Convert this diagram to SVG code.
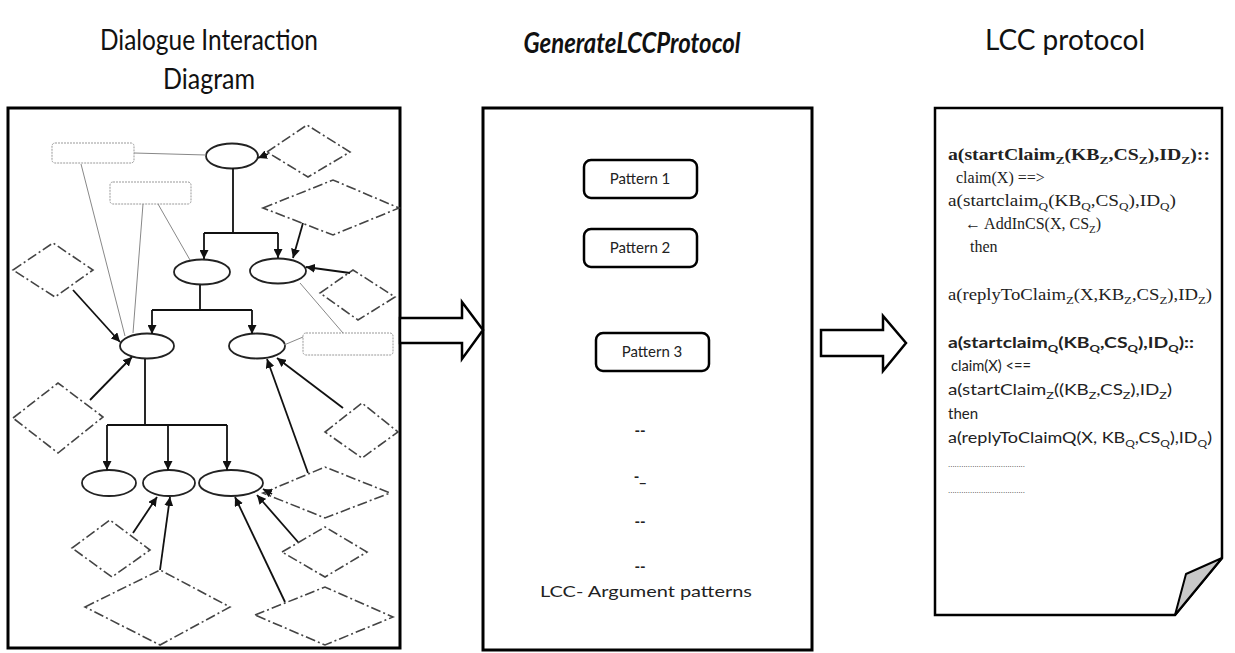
<svg xmlns="http://www.w3.org/2000/svg" width="1235" height="653" viewBox="0 0 1235 653">
  <style>
    .title { font-family: Lato, "Open Sans", "Liberation Sans", sans-serif; font-size: 28px; fill: #111; }
    .frame { fill: #fff; stroke: #000; stroke-width: 3; }
    .ell { fill: #fff; stroke: #222; stroke-width: 1.8; }
    .lbl { fill: #fff; stroke: #999; stroke-width: 1; stroke-dasharray: 2 1; }
    .dia { fill: #fff; stroke: #444; stroke-width: 1.6; stroke-dasharray: 10 3 2 3; }
    .tree { fill: none; stroke: #111; stroke-width: 1.8; }
    .edge { fill: none; stroke: #111; stroke-width: 1.8; marker-end: url(#ah); }
    .link { fill: none; stroke: #888; stroke-width: 1; }
    .block { fill: #fff; stroke: #000; stroke-width: 2.5; stroke-linejoin: miter; }
    .pat { fill: #fff; stroke: #000; stroke-width: 2.5; }
    .pt { font-family: Lato, "Open Sans", "Liberation Sans", sans-serif; font-size: 15px; fill: #222; text-anchor: middle; }
    .ser { font-family: "Liberation Serif", "Times New Roman", serif; font-size: 16px; fill: #222; }
    .san { font-family: Lato, "Liberation Sans", sans-serif; font-size: 15px; fill: #222; }
    .b { font-weight: bold; }
    .dots { font-family: "Liberation Sans", sans-serif; font-size: 9px; fill: #555; }
  </style>
  <defs>
    <marker id="ah" markerWidth="9" markerHeight="9" refX="9" refY="4.5" orient="auto" markerUnits="userSpaceOnUse">
      <path d="M0,0 L9,4.5 L0,9 z" fill="#111"/>
    </marker>
  </defs>

  <rect width="1235" height="653" fill="#fff"/>

  <!-- headings -->
  <g id="headings">
    <text class="title" x="209" y="50" text-anchor="middle" textLength="218" lengthAdjust="spacingAndGlyphs">Dialogue Interaction</text>
    <text class="title" x="209" y="89" text-anchor="middle" textLength="92" lengthAdjust="spacingAndGlyphs">Diagram</text>
    <text class="title" x="632" y="53" text-anchor="middle" font-size="24" font-weight="bold" font-style="italic" textLength="217" lengthAdjust="spacingAndGlyphs">GenerateLCCProtocol</text>
    <text class="title" x="1065" y="50" text-anchor="middle" textLength="160" lengthAdjust="spacingAndGlyphs">LCC protocol</text>
  </g>

  <!-- panel 1: dialogue interaction diagram -->
  <g id="dialogue-panel">
    <rect class="frame" x="8" y="108" width="392" height="540"/>
  </g>

  <!-- graph nodes inside the dialogue panel -->
  <g id="dlg-nodes">
    <rect id="lbl-a" class="lbl" x="52" y="143" width="82" height="20" rx="3"/>
    <rect id="lbl-b" class="lbl" x="110" y="182" width="81" height="22" rx="3"/>
    <rect id="lbl-c" class="lbl" x="303" y="333" width="90" height="22" rx="3"/>

    <ellipse id="e1" class="ell" cx="232" cy="156" rx="26" ry="12.5"/>
    <ellipse id="e2" class="ell" cx="202" cy="272" rx="28" ry="12.5"/>
    <ellipse id="e3" class="ell" cx="278" cy="271" rx="28" ry="12.5"/>
    <ellipse id="e4" class="ell" cx="147" cy="346" rx="27" ry="12.5"/>
    <ellipse id="e5" class="ell" cx="257" cy="346" rx="28" ry="12.5"/>
    <ellipse id="e6" class="ell" cx="109" cy="483" rx="27" ry="13"/>
    <ellipse id="e7" class="ell" cx="169" cy="483" rx="26" ry="13"/>
    <ellipse id="e8" class="ell" cx="231" cy="483" rx="32" ry="13"/>

    <polygon id="d1" class="dia" points="267,152 307,125 350,152 308,177"/>
    <polygon id="d2" class="dia" points="263,208 333,180 399,208 333,235"/>
    <polygon id="d3" class="dia" points="320,293 353,270 395,297 358,320"/>
    <polygon id="d4" class="dia" points="13,270 53,243 93,270 55,297"/>
    <polygon id="d5" class="dia" points="13,418 58,383 103,417 58,453"/>
    <polygon id="d6" class="dia" points="325,432 362,403 398,432 362,458"/>
    <polygon id="d7" class="dia" points="263,493 325,467 390,493 325,518"/>
    <polygon id="d8" class="dia" points="282,552 325,527 367,552 325,577"/>
    <polygon id="d9" class="dia" points="255,615 325,587 393,617 325,645"/>
    <polygon id="d10" class="dia" points="72,548 110,520 150,550 112,577"/>
    <polygon id="d11" class="dia" points="85,607 160,570 230,607 160,645"/>
  </g>

  <!-- panel 2: argument patterns -->
  <g id="patterns-panel">
    <rect class="frame" x="483" y="108" width="329" height="542" stroke-width="2.5"/>
  </g>
  <g id="pattern-1">
    <rect class="pat" x="584" y="160" width="113" height="38" rx="7"/>
    <text class="pt" x="640" y="184">Pattern 1</text>
  </g>
  <g id="pattern-2">
    <rect class="pat" x="584" y="229" width="113" height="38" rx="7"/>
    <text class="pt" x="640" y="253">Pattern 2</text>
  </g>
  <g id="pattern-3">
    <rect class="pat" x="596" y="333" width="113" height="38" rx="7"/>
    <text class="pt" x="652" y="357">Pattern 3</text>
  </g>
  <g id="pattern-more">
    <text class="pt" x="640" y="436" font-weight="bold">--</text>
    <text class="pt" x="640" y="482" font-weight="bold">-_</text>
    <text class="pt" x="640" y="527" font-weight="bold">--</text>
    <text class="pt" x="640" y="572" font-weight="bold">--</text>
    <text class="pt" x="646" y="597" font-size="19" textLength="212" lengthAdjust="spacingAndGlyphs">LCC- Argument patterns</text>
  </g>

  <!-- panel 3: generated LCC protocol document -->
  <g id="protocol-doc">
    <path d="M935,108 H1222 V558 L1175,615 H935 Z" fill="#fff" stroke="#000" stroke-width="2.5" stroke-linejoin="miter"/>
    <path d="M1222,558 L1186,574 L1175,615 Z" fill="#c8c8c8" stroke="#000" stroke-width="2" stroke-linejoin="round"/>

    <text class="ser b" x="948" y="160" textLength="262" lengthAdjust="spacingAndGlyphs">a(startClaim<tspan dy="4" font-size="11">Z</tspan><tspan dy="-4">(KB</tspan><tspan dy="4" font-size="11">Z</tspan><tspan dy="-4">,CS</tspan><tspan dy="4" font-size="11">Z</tspan><tspan dy="-4">),ID</tspan><tspan dy="4" font-size="11">Z</tspan><tspan dy="-4">)::</tspan></text>
    <text class="ser" x="956" y="183">claim(X) ==&gt;</text>
    <text class="ser" x="948" y="206" textLength="228" lengthAdjust="spacingAndGlyphs">a(startclaim<tspan dy="4" font-size="11">Q</tspan><tspan dy="-4">(KB</tspan><tspan dy="4" font-size="11">Q</tspan><tspan dy="-4">,CS</tspan><tspan dy="4" font-size="11">Q</tspan><tspan dy="-4">),ID</tspan><tspan dy="4" font-size="11">Q</tspan><tspan dy="-4">)</tspan></text>
    <text class="ser" x="965" y="229">← AddInCS(X, CS<tspan dy="4" font-size="11">Z</tspan><tspan dy="-4">)</tspan></text>
    <text class="ser" x="970" y="252">then</text>
    <text class="ser" x="948" y="300" textLength="264" lengthAdjust="spacingAndGlyphs">a(replyToClaim<tspan dy="4" font-size="11">Z</tspan><tspan dy="-4">(X,KB</tspan><tspan dy="4" font-size="11">Z</tspan><tspan dy="-4">,CS</tspan><tspan dy="4" font-size="11">Z</tspan><tspan dy="-4">),ID</tspan><tspan dy="4" font-size="11">Z</tspan><tspan dy="-4">)</tspan></text>

    <text class="san b" x="948" y="348" textLength="246" lengthAdjust="spacingAndGlyphs">a(startclaim<tspan dy="4" font-size="10">Q</tspan><tspan dy="-4">(KB</tspan><tspan dy="4" font-size="10">Q</tspan><tspan dy="-4">,CS</tspan><tspan dy="4" font-size="10">Q</tspan><tspan dy="-4">),ID</tspan><tspan dy="4" font-size="10">Q</tspan><tspan dy="-4">)::</tspan></text>
    <text class="san" x="951" y="371" textLength="80" lengthAdjust="spacingAndGlyphs">claim(X) &lt;==</text>
    <text class="san" x="948" y="395" textLength="224" lengthAdjust="spacingAndGlyphs">a(startClaim<tspan dy="4" font-size="10">Z</tspan><tspan dy="-4">((KB</tspan><tspan dy="4" font-size="10">Z</tspan><tspan dy="-4">,CS</tspan><tspan dy="4" font-size="10">Z</tspan><tspan dy="-4">),ID</tspan><tspan dy="4" font-size="10">Z</tspan><tspan dy="-4">)</tspan></text>
    <text class="san" x="948" y="419">then</text>
    <text class="san" x="948" y="443" textLength="264" lengthAdjust="spacingAndGlyphs">a(replyToClaimQ(X, KB<tspan dy="4" font-size="10">Q</tspan><tspan dy="-4">,CS</tspan><tspan dy="4" font-size="10">Q</tspan><tspan dy="-4">),ID</tspan><tspan dy="4" font-size="10">Q</tspan><tspan dy="-4">)</tspan></text>
    <text class="dots" x="948" y="467" textLength="77" lengthAdjust="spacingAndGlyphs">...................................</text>
    <text class="dots" x="948" y="493" textLength="77" lengthAdjust="spacingAndGlyphs">...................................</text>
  </g>

  <!-- connectors -->
  <g id="connectors">
    <!-- block arrows between the panels -->
    <polygon class="block" points="400,318 462,318 462,302 483,330 462,359 462,343 400,343"/>
    <polygon class="block" points="821,330 883,330 883,316 906,343 883,371 883,356 821,356"/>

    <!-- tree edges -->
    <path class="tree" d="M233,168 V233 M204,233 H278 M200,285 V310 M152,310 H252 M145,359 V425 M107,425 H227"/>
    <path class="edge" d="M204,233 V259"/>
    <path class="edge" d="M278,233 V258"/>
    <path class="edge" d="M152,310 V334"/>
    <path class="edge" d="M252,310 V334"/>
    <path class="edge" d="M107,425 V470"/>
    <path class="edge" d="M168,425 V470"/>
    <path class="edge" d="M227,425 V470"/>

    <!-- label links -->
    <path class="link" d="M134,153 L206,155" stroke="#666"/>
    <path class="link" d="M81,164 L125,336"/>
    <path class="link" d="M143,204 L133,333"/>
    <path class="link" d="M158,204 L190,260"/>
    <path class="link" d="M300,283 L343,333"/>
    <path class="link" d="M284,345 L303,337"/>

    <!-- argument edges -->
    <path class="edge" d="M268,154 L258,158"/>
    <path class="edge" d="M303,223 L293,258"/>
    <path class="edge" d="M350,273 L306,267"/>
    <path class="edge" d="M73,290 L120,342"/>
    <path class="edge" d="M90,400 L132,357"/>
    <path class="edge" d="M343,408 L277,358"/>
    <path class="edge" d="M308,473 L267,359"/>
    <path class="edge" d="M272,494 L263,489"/>
    <path class="edge" d="M298,542 L257,495"/>
    <path class="edge" d="M285,602 L235,497"/>
    <path class="edge" d="M133,533 L157,497"/>
    <path class="edge" d="M160,570 L170,497"/>
  </g>
</svg>
